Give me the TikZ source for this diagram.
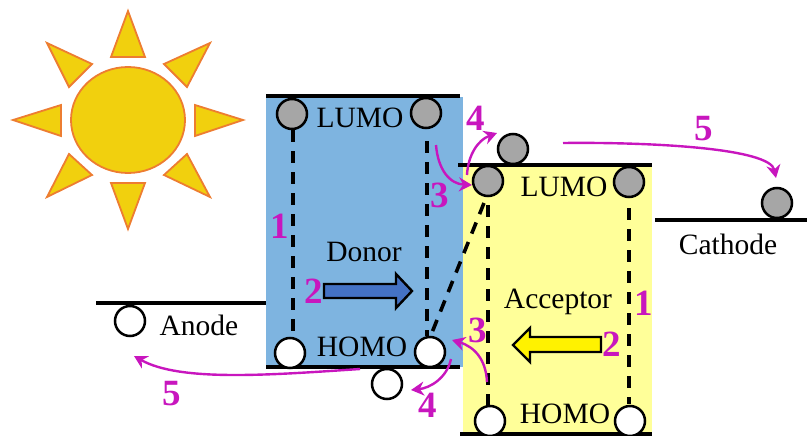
\documentclass[tikz,border=0pt]{standalone}
\usepackage{fontspec}
\setmainfont{Liberation Serif}
\usetikzlibrary{arrows.meta,shapes.arrows}
\definecolor{sunfill}{RGB}{241,208,14}
\definecolor{sunline}{RGB}{237,125,49}
\definecolor{donorblue}{RGB}{126,180,224}
\definecolor{accyellow}{RGB}{255,255,153}
\definecolor{mag}{RGB}{200,22,190}
\definecolor{arrowblue}{RGB}{68,114,196}
\definecolor{ballgray}{RGB}{166,166,166}
\tikzset{
  ray/.style={fill=sunfill,draw=sunline,line width=1.8pt,line join=miter},
  level/.style={line width=4.6pt},
  ballg/.style={circle,draw=black,line width=2.5pt,fill=ballgray,minimum size=30pt,inner sep=0pt},
  ballw/.style={circle,draw=black,line width=2.5pt,fill=white,minimum size=30pt,inner sep=0pt},
  gap/.style={line width=3.6pt,dash pattern=on 12pt off 9pt},
  lbl/.style={font=\fontsize{29.5}{29.5}\selectfont,inner sep=0pt},
  num/.style={font=\fontsize{37}{37}\selectfont\bfseries,text=mag,inner sep=0pt},
  flow/.style={draw=mag,line width=2.4pt,-{Stealth[length=13pt,width=14pt]}},
  bigarrow/.style={draw=black,line width=2.4pt,line join=miter}
}
\begin{document}
\begin{tikzpicture}[x=1pt,y=-1pt]
\useasboundingbox (0,0) rectangle (807,436);
% sun
\draw[ray] (128,120) ellipse [x radius=57,y radius=53];
\draw[ray] (128,11)--(111,57)--(145,57)--cycle;
\draw[ray] (210,43)--(164,64)--(187,87)--cycle;
\draw[ray] (243,120)--(195,105)--(195,136)--cycle;
\draw[ray] (210,197)--(187,154)--(164,175)--cycle;
\draw[ray] (128,229)--(111,183)--(145,183)--cycle;
\draw[ray] (47,197)--(69,154)--(92,175)--cycle;
\draw[ray] (13,120)--(61,105)--(61,136)--cycle;
\draw[ray] (47,43)--(92,64)--(69,87)--cycle;
% panels
\fill[donorblue] (266,97) rectangle (463,367);
\fill[accyellow] (463,165) rectangle (652,433);
% levels
\coordinate (ba1) at (96,303); \coordinate (ba2) at (266,303);
\coordinate (bc1) at (655,220); \coordinate (bc2) at (807,220);
\coordinate (d1) at (266,96); \coordinate (d2) at (460,96);
\coordinate (d3) at (266,367); \coordinate (d4) at (460,367);
\coordinate (a1) at (458,165); \coordinate (a2) at (652,165);
\coordinate (a3) at (460,434); \coordinate (a4) at (652,434);
\draw[level] (ba1)--(ba2);
\draw[level] (bc1)--(bc2);
\draw[level] (d1)--(d2);
\draw[level] (d3)--(d4);
\draw[level] (a1)--(a2);
\draw[level] (a3)--(a4);
% dashed transitions
\draw[gap] (293,130)--(293,338);
\draw[gap] (427,141)--(427,336);
\draw[gap] (488,205)--(488,408);
\draw[gap] (629,208)--(629,404);
\draw[gap] (484,203)--(431,335);
% balls
\node[ballg] (g1) at (292,114) {};
\node[ballg] (g2) at (426,113) {};
\node[ballg] (g3) at (513,149) {};
\node[ballg] (g4) at (488,181) {};
\node[ballg] (g5) at (629,182) {};
\node[ballg] (g6) at (777,203) {};
\node[ballw] (w1) at (290,353) {};
\node[ballw] (w2) at (430,352) {};
\node[ballw] (w3) at (387,384) {};
\node[ballw] (w4) at (490,421) {};
\node[ballw] (w5) at (630,421) {};
\node[ballw] (w6) at (130,321) {};
% texts
\node[lbl] (t1) at (360,118) {LUMO};
\node[lbl] (t2) at (362,347) {HOMO};
\node[lbl] (t3) at (564,187) {LUMO};
\node[lbl] (t4) at (565,414) {HOMO};
\node[lbl] (t5) at (364,252) {Donor};
\node[lbl] (t6) at (558,302) {Acceptor};
\node[lbl] (t7) at (199,325) {Anode};
\node[lbl] (t8) at (728,244) {Cathode};
% big arrows
\draw[bigarrow,fill=arrowblue] (324,284)--(396,284)--(396,274)--(412,291)--(396,308)--(396,298)--(324,298)--cycle;
\draw[bigarrow,fill=yellow] (601,337)--(530,337)--(530,328)--(513,345)--(530,362)--(530,352)--(601,352)--cycle;
% numbers
\node[num] (n1) at (280,226) {1};
\node[num] (n2) at (314,291) {2};
\node[num] (n3) at (440,195) {3};
\node[num] (n4) at (476,118) {4};
\node[num] (n5) at (704,129) {5};
\node[num] (m1) at (644,303) {1};
\node[num] (m2) at (612,344) {2};
\node[num] (m3) at (478,330) {3};
\node[num] (m4) at (428,405) {4};
\node[num] (m5) at (172,394) {5};
% flows
\coordinate (f1) at (436,145); \coordinate (f1e) at (472,185);
\draw[flow] (f1) .. controls (438,170) and (450,184) .. (f1e);
\coordinate (f2) at (467,175); \coordinate (f2e) at (497,133);
\draw[flow] (f2) .. controls (468,155) and (478,140) .. (f2e);
\coordinate (f3) at (563,143); \coordinate (f3e) at (776,178);
\draw[flow] (f3) .. controls (650,142) and (770,148) .. (f3e);
\coordinate (f4) at (487,382); \coordinate (f4e) at (452,340);
\draw[flow] (f4) .. controls (486,360) and (475,347) .. (f4e);
\coordinate (f5) at (451,359); \coordinate (f5e) at (411,390);
\draw[flow] (f5) .. controls (447,378) and (430,388) .. (f5e);
\coordinate (f6) at (360,369); \coordinate (f6e) at (134,356);
\draw[flow] (f6) .. controls (270,375) and (180,382) .. (f6e);
\end{tikzpicture}
\end{document}
